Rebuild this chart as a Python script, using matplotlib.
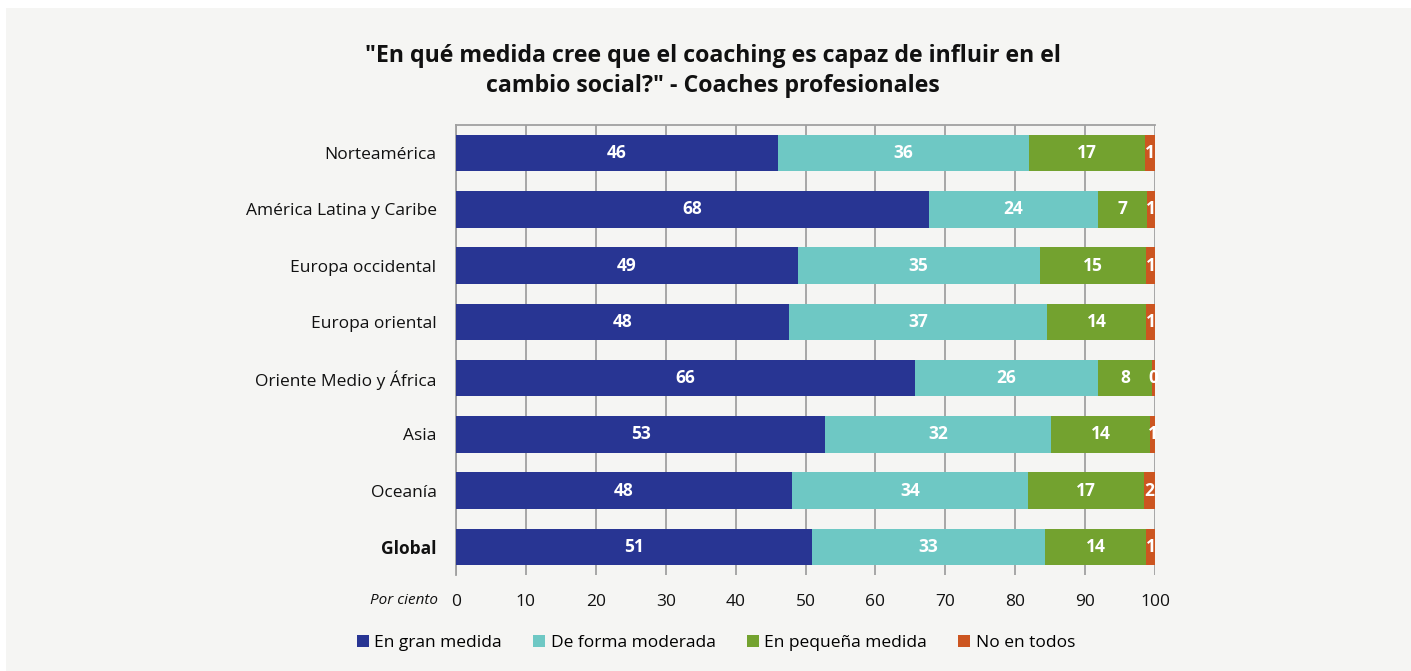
import matplotlib.pyplot as plt
import numpy as np
from matplotlib.patches import Rectangle

plt.rcParams['font.family'] = ['Open Sans', 'DejaVu Sans']

# datos (porcentaje)
regiones = ['Norteamérica', 'América Latina y Caribe', 'Europa occidental',
            'Europa oriental', 'Oriente Medio y África', 'Asia', 'Oceanía', 'Global']
series = ['En gran medida', 'De forma moderada', 'En pequeña medida', 'No en todos']
gran = [46.1, 67.6, 48.9, 47.6, 65.7, 52.8, 48.1, 50.9]
moderada = [35.9, 24.2, 34.6, 37.0, 26.1, 32.3, 33.7, 33.4]
pequena = [16.6, 7.0, 15.2, 14.1, 7.8, 14.2, 16.6, 14.4]
ninguno = [1.4, 1.3, 1.3, 1.3, 0.4, 0.7, 1.6, 1.3]
colores = ['#283593', '#6ec8c4', '#73a22f', '#cc5520']
titulo = '"En qué medida cree que el coaching es capaz de influir en el\ncambio social?" - Coaches profesionales'

W, H = 1411, 671
fig = plt.figure(figsize=(W / 100, H / 100), dpi=100)
fig.patch.set_facecolor('white')
# panel gris claro de fondo
fig.patches.append(Rectangle((6 / W, 0), 1 - 6 / W, 1 - 8 / H, transform=fig.transFigure,
                             facecolor='#f5f5f3', edgecolor='none', zorder=-10))

ax = fig.add_axes([456 / W, 1 - 575 / H, (1155 - 456) / W, (575 - 125) / H], zorder=2)
ax.set_facecolor('none')

y = np.arange(len(regiones))
left = np.zeros(len(regiones))
for nombre, vals, col in zip(series, [gran, moderada, pequena, ninguno], colores):
    vals = np.array(vals)
    ax.barh(y, vals, left=left, height=0.65, color=col, label=nombre, zorder=3)
    for yi, l, v in zip(y, left, vals):
        ax.text(l + v / 2, yi, f'{v:.0f}', ha='center', va='center', color='white',
                fontsize=12.5, fontweight='bold', zorder=4)
    left += vals

ax.set_xlim(0, 100)
ax.set_ylim(len(regiones) - 0.5, -0.5)
ax.set_xticks(range(0, 101, 10))
ax.set_yticks(y)
ax.set_yticklabels(regiones, fontsize=12.5)
ax.get_yticklabels()[-1].set_fontweight('bold')
ax.tick_params(axis='both', length=0, colors='#111111')
ax.tick_params(axis='x', labelsize=12.5, pad=14)
ax.tick_params(axis='y', pad=14)
ax.grid(axis='x', color='#a0a0a0', linewidth=1.3, zorder=0)
ax.set_axisbelow(True)
for s in ['top', 'left']:
    ax.spines[s].set_color('#a0a0a0')
    ax.spines[s].set_linewidth(1.3)
ax.spines['bottom'].set_visible(False)
ax.spines['right'].set_visible(False)

fig.text(438 / W, 1 - 600 / H, 'Por ciento', ha='right', va='center', fontsize=11,
         style='italic', color='#111111')

fig.text(713 / W, 1 - 71 / H, titulo, ha='center', va='center', fontsize=16.7,
         fontweight='bold', linespacing=1.3, color='#111111')

fig.legend(loc='center', bbox_to_anchor=(716 / W, 1 - 643 / H), ncol=4, frameon=False,
           fontsize=12.5, handlelength=0.7, handleheight=0.7, handletextpad=0.3,
           columnspacing=1.8)

fig.savefig('out.png', dpi=100, facecolor=fig.get_facecolor())
